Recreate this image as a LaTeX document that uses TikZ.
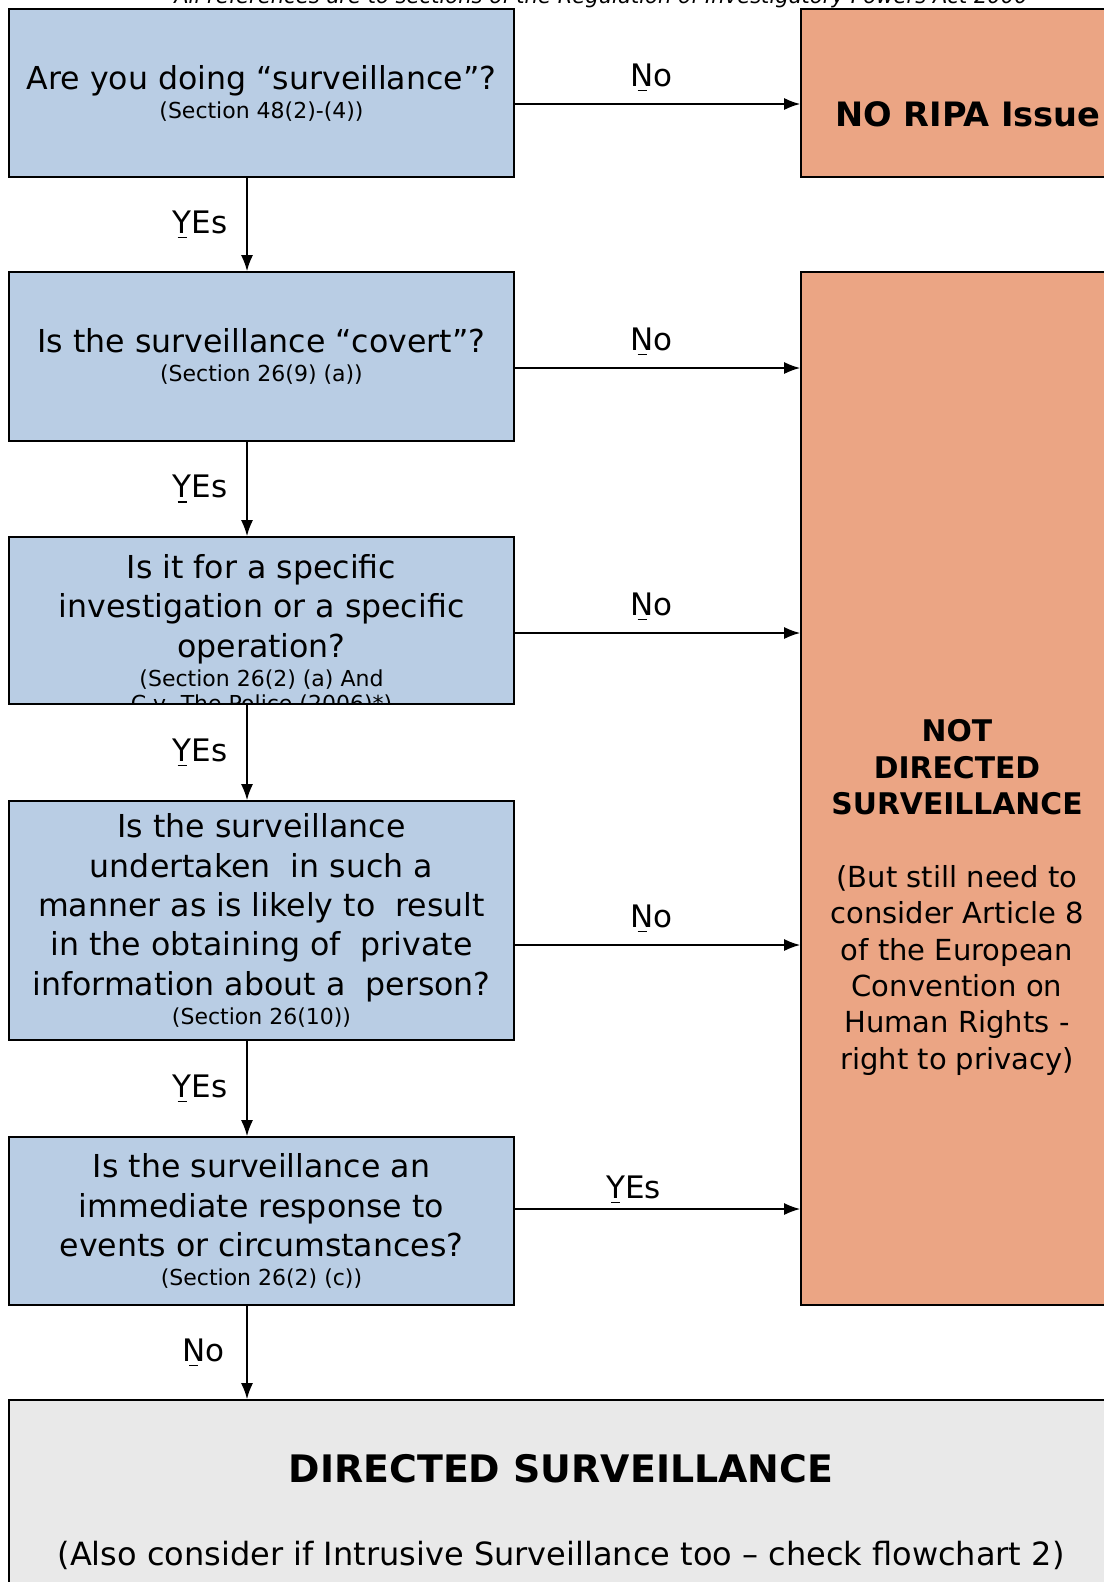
\documentclass[tikz,border=0pt]{standalone}
\usepackage{fontspec}
\setmainfont{DejaVu Sans}[BoldFont={DejaVu Sans Bold},ItalicFont={DejaVu Sans Oblique}]
\usetikzlibrary{arrows.meta}
\definecolor{qblue}{RGB}{185,205,228}
\definecolor{rorange}{RGB}{235,165,132}
\definecolor{dgrey}{RGB}{233,233,233}
% short mark under the first letter of a label
\newcommand{\acck}[1]{\sbox0{#1}\rlap{\makebox[\wd0]{\raisebox{-5pt}{\rule{9pt}{1.4pt}}}}#1}
\newcommand{\srcline}[1]{\\[-10.4pt]{\fontsize{22}{26}\selectfont #1}}
\tikzset{q/.style={rectangle,draw,line width=1.8pt,fill=qblue,minimum width=505pt,inner sep=0pt,align=center,font=\fontsize{31.6}{39.4}\selectfont}}
\tikzset{r/.style={rectangle,draw,line width=1.8pt,fill=rorange,minimum width=312pt,inner sep=0pt}}
\tikzset{l/.style={draw=none,inner sep=0pt,font=\fontsize{31}{36}\selectfont}}
\tikzset{a/.style={line width=1.4pt,-{Latex[length=16pt,width=12pt]}}}

\begin{document}
\begin{tikzpicture}[x=1pt,y=-1pt]
    \useasboundingbox (0,0) rectangle (1103,1582);
    \node[anchor=base,inner sep=0pt,font=\itshape\fontsize{21.1}{24}\selectfont] (ref) at (601,4)
        {All references are to sections of the Regulation of Investigatory Powers Act 2000};
    % questions
    \node[q,minimum height=168pt] (Q1) at (261.5,93) {Are you doing “surveillance”?\srcline{(Section 48(2)-(4))}};
    \node[q,minimum height=169pt] (Q2) at (261.5,356.5) {Is the surveillance “covert”?\srcline{(Section 26(9) (a))}};
    \node[q,minimum height=167pt,path picture={
        \node[align=center,inner sep=0pt,font=\fontsize{31.6}{39.4}\selectfont] (Q3text)
            at ([yshift=-14pt]path picture bounding box.center)
            {Is it for a specific\\investigation or a specific\\operation?\srcline{(Section 26(2) (a) And}\\[-14pt]{\fontsize{22}{26}\selectfont C v. The Police (2006)*)}};
        }] (Q3) at (261.5,620.5) {};
    \node[q,minimum height=239pt] (Q4) at (261.5,920.5) {Is the surveillance\\undertaken\ \ in such a\\manner as is likely to\ \ result\\in the obtaining of\ \ private\\information about a\ \ person?\srcline{(Section 26(10))}};
    \node[q,minimum height=168pt] (Q5) at (261.5,1221) {Is the surveillance an\\immediate response to\\events or circumstances?\srcline{(Section 26(2) (c))}};
    % outcomes
    \node[r,minimum height=168pt] (NR) at (957,93) {};
    \node[inner sep=0pt,font=\bfseries\fontsize{33.6}{40}\selectfont] (NRtext) at (968,114) {NO RIPA Issue};
    \node[r,minimum height=1033pt] (ND) at (957,788.5) {};
    \node[inner sep=0pt,align=center,font=\fontsize{29}{36.4}\selectfont] (NDtext) at (957,897.5)
        {{\bfseries\fontsize{29.8}{36.4}\selectfont NOT}\\{\bfseries\fontsize{29.8}{36.4}\selectfont DIRECTED}\\{\bfseries\fontsize{29.8}{36.4}\selectfont SURVEILLANCE}\\[36.4pt](But still need to\\consider Article 8\\of the European\\Convention on\\Human Rights -\\right to privacy)};
    \node[rectangle,draw,line width=1.8pt,fill=dgrey,minimum width=1104pt,minimum height=224pt,inner sep=0pt,align=center,font=\fontsize{32}{40}\selectfont] (DS) at (561,1512)
        {{\bfseries\fontsize{37.9}{45}\selectfont DIRECTED SURVEILLANCE}\\[43pt](Also consider if Intrusive Surveillance too – check flowchart 2)};
    % connectors
    \coordinate (spine) at (247,0);
    \draw[a] (Q1.south -| spine) -- node[l,left=19pt] {\acck{Y}Es} (Q2.north -| spine);
    \draw[a] (Q2.south -| spine) -- node[l,left=19pt] {\acck{Y}Es} (Q3.north -| spine);
    \draw[a] (Q3.south -| spine) -- node[l,left=19pt] {\acck{Y}Es} (Q4.north -| spine);
    \draw[a] (Q4.south -| spine) -- node[l,left=19pt] {\acck{Y}Es} (Q5.north -| spine);
    \draw[a] (Q5.south -| spine) -- node[l,left=22pt] {\acck{N}o} (DS.north -| spine);
    \draw[a] ([yshift=-11pt]Q1.east) -- node[l,above=12pt,xshift=-6pt] {\acck{N}o} ([yshift=-11pt]Q1.east -| NR.west);
    \draw[a] ([yshift=-11.5pt]Q2.east) -- node[l,above=12pt,xshift=-6pt] {\acck{N}o} ([yshift=-11.5pt]Q2.east -| ND.west);
    \draw[a] ([yshift=-12.5pt]Q3.east) -- node[l,above=12pt,xshift=-6pt] {\acck{N}o} ([yshift=-12.5pt]Q3.east -| ND.west);
    \draw[a] ([yshift=-24.5pt]Q4.east) -- node[l,above=12pt,xshift=-6pt] {\acck{N}o} ([yshift=-24.5pt]Q4.east -| ND.west);
    \draw[a] ([yshift=12pt]Q5.east) -- node[l,above=5pt,xshift=-24pt] {\acck{Y}Es} ([yshift=12pt]Q5.east -| ND.west);
\end{tikzpicture}
\end{document}
